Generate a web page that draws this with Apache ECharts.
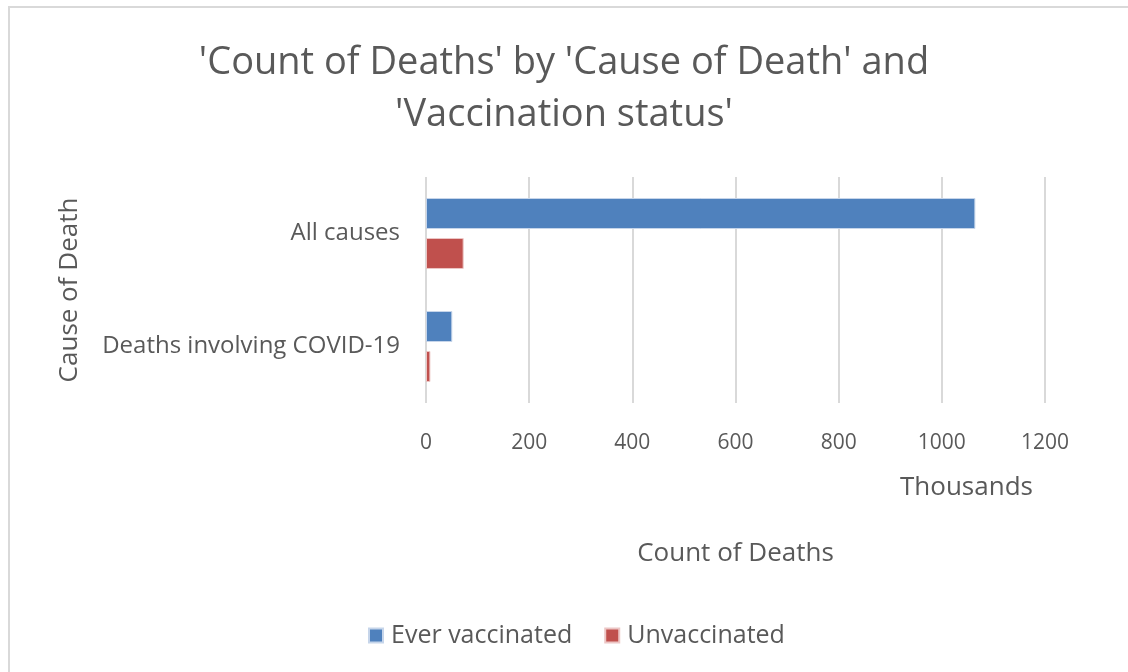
<!DOCTYPE html>
<html>
<head>
<meta charset="utf-8">
<script src="https://cdn.jsdelivr.net/npm/echarts@6/dist/echarts.min.js"></script>
<style>
  html, body { margin: 0; padding: 0; background: #ffffff; }
  #chart { width: 1128px; height: 672px; }
</style>
</head>
<body>
<div id="chart"></div>
<script>
// Deaths by cause, split by vaccination status (values in thousands)
const causes = ['All causes', 'Deaths involving COVID-19'];
const everVaccinated = [1065, 51];
const unvaccinated = [73, 8.5];
const xTicks = { min: 0, max: 1200, interval: 200 };

const FONT = 'Open Sans';
const GREY = '#595959';

const chart = echarts.init(document.getElementById('chart'));
chart.setOption({
  animation: false,
  backgroundColor: '#ffffff',
  textStyle: { fontFamily: FONT },
  title: {
    text: "'Count of Deaths' by 'Cause of Death' and\n'Vaccination status'",
    left: 'center',
    top: 32,
    textStyle: { fontFamily: FONT, fontSize: 38, fontWeight: 'normal', color: GREY, lineHeight: 52 }
  },
  legend: {
    bottom: 24,
    left: 368,
    padding: 0,
    itemWidth: 14,
    itemHeight: 14,
    itemGap: 32,
    icon: 'rect',
    textStyle: { fontFamily: FONT, fontSize: 25, color: GREY, padding: [0, 0, 0, 3] }
  },
  grid: { left: 426, right: 83, top: 177, bottom: 269 },
  xAxis: {
    type: 'value',
    min: xTicks.min,
    max: xTicks.max,
    interval: xTicks.interval,
    name: 'Count of Deaths',
    nameLocation: 'middle',
    nameGap: 138,
    nameTextStyle: { fontFamily: FONT, fontSize: 26, color: GREY },
    axisLine: { show: false },
    axisTick: { show: false },
    axisLabel: { fontFamily: FONT, fontSize: 21, color: GREY, margin: 30, formatter: v => String(v) },
    splitLine: { lineStyle: { color: '#d9d9d9', width: 2 } }
  },
  yAxis: {
    type: 'category',
    data: causes,
    inverse: true,
    name: 'Cause of Death',
    nameLocation: 'middle',
    nameRotate: 90,
    nameGap: 343,
    nameTextStyle: { fontFamily: FONT, fontSize: 26, color: GREY },
    axisLine: { show: false },
    axisTick: { show: false },
    axisLabel: { fontFamily: FONT, fontSize: 24, color: GREY, margin: 26 }
  },
  series: [
    {
      name: 'Ever vaccinated',
      type: 'bar',
      data: everVaccinated,
      barWidth: 31,
      barGap: '29%',
      itemStyle: { color: '#4f81bd', borderColor: '#c6d5ea', borderWidth: 1 }
    },
    {
      name: 'Unvaccinated',
      type: 'bar',
      data: unvaccinated,
      barWidth: 31,
      barGap: '29%',
      itemStyle: { color: '#c0504d', borderColor: '#ecc6c5', borderWidth: 1 }
    }
  ],
  graphic: [
    {
      type: 'rect',
      silent: true,
      shape: { x: 9, y: 7, width: 1140, height: 700 },
      style: { fill: 'none', stroke: '#d9d9d9', lineWidth: 2 }
    },
    {
      type: 'text',
      left: 900,
      top: 475,
      style: { text: 'Thousands', fontFamily: FONT, fontSize: 26, fill: GREY }
    }
  ]
});
</script>
</body>
</html>
